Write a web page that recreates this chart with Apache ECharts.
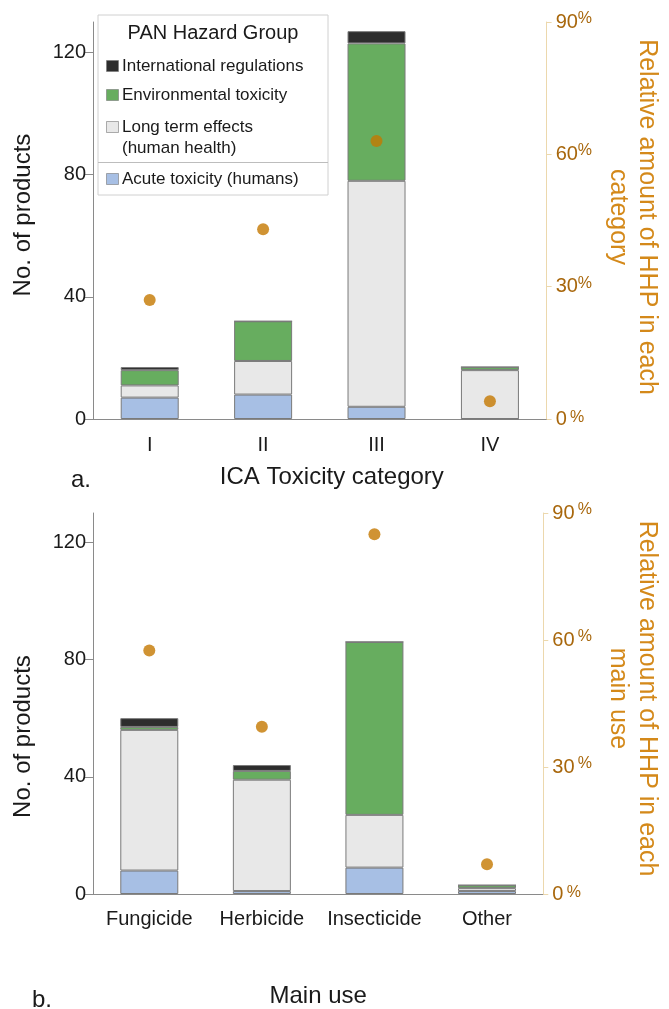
<!DOCTYPE html>
<html>
<head>
<meta charset="utf-8">
<script src="https://cdn.jsdelivr.net/npm/echarts@6/dist/echarts.min.js"></script>
<style>
html,body{margin:0;padding:0;background:#fff;}
#chart{width:669px;height:1009px;}
</style>
</head>
<body>
<div id="chart"></div>
<script>
// ---------- data ----------
const categoriesA = ['I', 'II', 'III', 'IV'];
const categoriesB = ['Fungicide', 'Herbicide', 'Insecticide', 'Other'];
const groupNames = ['Acute toxicity (humans)', 'Long term effects (human health)', 'Environmental toxicity', 'International regulations'];
const legendTexts = ['Acute toxicity (humans)', 'Long term effects\n(human health)', 'Environmental toxicity', 'International regulations'];
const legendTitle = 'PAN Hazard Group';

const acuteA = [7, 8, 4, 0];
const longTermA = [4, 11, 74, 16];
const envA = [5, 13, 45, 1];
const intlA = [1, 0, 4, 0];
const hhpPctA = [27, 43, 63, 4];

const acuteB = [8, 1, 9, 1];
const longTermB = [48, 38, 18, 1];
const envB = [1, 3, 59, 1];
const intlB = [3, 2, 0, 0];
const hhpPctB = [57.5, 39.5, 85, 7];

const countTicks = [0, 40, 80, 120];
const pctTicks = [0, 30, 60, 90];

// ---------- styles ----------
const FONT = "'Liberation Sans', Arial, sans-serif";
const groupColors = ['#a7bfe4', '#e8e8e8', '#67ad5f', '#2d2d2d'];
const axisGray = '#8a8a8a';
const tan = '#ecd8ad';
const dotColor = '#c47800';
const pctLabelColor = '#a8670c';
const pctTitleColor = '#d4891a';
const textColor = '#1a1a1a';

const chart = echarts.init(document.getElementById('chart'), null, {renderer: 'canvas'});

function xAxisCfg(grid, cats, name, gap, pad, fs, margin) {
  return {
    gridIndex: grid, type: 'category', data: cats,
    axisLine: {lineStyle: {color: axisGray, width: 1}},
    axisTick: {length: 8, lineStyle: {color: axisGray}},
    axisLabel: {fontSize: fs, color: textColor, fontFamily: FONT, margin: margin, interval: 0, hideOverlap: false},
    name: name, nameLocation: 'middle', nameGap: gap,
    nameTextStyle: {fontSize: 24, color: textColor, fontFamily: FONT, padding: pad}
  };
}
function yLeftCfg(grid, pad) {
  return {
    gridIndex: grid, type: 'value', min: 0, max: 130, position: 'left',
    axisLine: {show: true, lineStyle: {color: axisGray}},
    axisTick: {show: true, length: 8, lineStyle: {color: axisGray}, customValues: countTicks},
    axisLabel: {fontSize: 20, color: textColor, fontFamily: FONT, margin: 7, customValues: countTicks},
    splitLine: {show: false},
    name: 'No. of products', nameLocation: 'middle', nameGap: 58, nameRotate: 90,
    nameTextStyle: {fontSize: 24, color: textColor, fontFamily: FONT, padding: pad}
  };
}
function yRightCfg(grid, name, pad, spaced) {
  return {
    gridIndex: grid, type: 'value', min: 0, max: 90, interval: 30, position: 'right',
    axisLine: {show: true, lineStyle: {color: tan}},
    axisTick: {show: true, length: 5, lineStyle: {color: tan}},
    axisLabel: {
      margin: 9,
      formatter: function (v) {
        if (v === 0) return '{n|0} {q|%}';
        return spaced ? '{n|' + v + '} {p|%}' : '{n|' + v + '}{p|%}';
      },
      rich: {
        n: {fontSize: 20, color: pctLabelColor, fontFamily: FONT},
        p: {fontSize: 16, color: pctLabelColor, fontFamily: FONT, padding: [0, 0, 7, 0]},
        q: {fontSize: 16, color: pctLabelColor, fontFamily: FONT, padding: [0, 0, 3, 0]}
      }
    },
    splitLine: {show: false},
    name: name, nameLocation: 'middle', nameGap: 52, nameRotate: -90,
    nameTextStyle: {fontSize: 25, color: pctTitleColor, fontFamily: FONT, lineHeight: 29, padding: pad}
  };
}

function barSeries(name, data, idx, color, stack) {
  return {
    type: 'bar', name: name, data: data, stack: stack,
    xAxisIndex: idx, yAxisIndex: idx * 2, barWidth: 58,
    itemStyle: {color: color, borderColor: '#7a7a7a', borderWidth: 1},
    emphasis: {disabled: true}
  };
}
function dotSeries(data, idx) {
  return {
    type: 'scatter', data: data, xAxisIndex: idx, yAxisIndex: idx * 2 + 1,
    symbol: 'circle', symbolSize: 12, itemStyle: {color: dotColor}, z: 5
  };
}

const seriesA = [acuteA, longTermA, envA, intlA];
const seriesB = [acuteB, longTermB, envB, intlB];
const series = [];
seriesA.forEach((d, i) => series.push(barSeries(groupNames[i], d, 0, groupColors[i], 'a')));
series.push(dotSeries(hhpPctA, 0));
seriesB.forEach((d, i) => series.push(barSeries(groupNames[i], d, 1, groupColors[i], 'b')));
series.push(dotSeries(hhpPctB, 1));

// legend box (custom layout as in reference)
const legendBox = {left: 98, top: 15, width: 230, height: 180};
const legendRowsY = [179, 127, 95, 66]; // acute, long term, env, intl
const legendGraphics = [
  {type: 'rect', shape: {x: legendBox.left, y: legendBox.top, width: legendBox.width, height: legendBox.height},
   style: {fill: '#fff', stroke: '#d0d0d0', lineWidth: 1}, z: 100},
  {type: 'text', x: legendBox.left + legendBox.width / 2, y: 33,
   style: {text: legendTitle, fontSize: 20, fontFamily: FONT, fill: textColor, align: 'center', verticalAlign: 'middle'}, z: 101},
  {type: 'line', shape: {x1: legendBox.left, y1: 162.5, x2: legendBox.left + legendBox.width, y2: 162.5},
   style: {stroke: '#bdbdbd', lineWidth: 1}, z: 101}
];
legendTexts.forEach((t, i) => {
  const y = legendRowsY[i];
  legendGraphics.push({type: 'rect', shape: {x: 106.5, y: y - 5.5, width: 12, height: 11},
    style: {fill: groupColors[i], stroke: '#777', lineWidth: 0.6}, z: 101});
  legendGraphics.push({type: 'text', x: 122, y: y - 10,
    style: {text: t, fontSize: 17, lineHeight: 21, fontFamily: FONT, fill: textColor, align: 'left', verticalAlign: 'top'}, z: 101});
});
legendGraphics.push({type: 'text', x: 81, y: 480,
  style: {text: 'a.', fontSize: 24, fontFamily: FONT, fill: textColor, align: 'center', verticalAlign: 'middle'}});
legendGraphics.push({type: 'text', x: 42, y: 1000,
  style: {text: 'b.', fontSize: 24, fontFamily: FONT, fill: textColor, align: 'center', verticalAlign: 'middle'}});

chart.setOption({
  animation: false,
  backgroundColor: '#fff',
  textStyle: {fontFamily: FONT},
  grid: [
    {left: 93, top: 22, width: 463, height: 397},
    {left: 93, top: 513, width: 462, height: 384}
  ],
  xAxis: [
    xAxisCfg(0, categoriesA, 'ICA Toxicity category', 46, [0, 0, 0, 24], 20, 16),
    xAxisCfg(1, categoriesB, 'Main use', 90, [0, 0, 0, 0], 20, 15)
  ],
  yAxis: [
    yLeftCfg(0, [0, 0, 0, 11]),
    yRightCfg(0, 'Relative amount of HHP in each\ncategory', [0, 7, 0, 0], false),
    yLeftCfg(1, [0, 66, 0, 0]),
    yRightCfg(1, 'Relative amount of HHP in each\nmain use', [0, 10, 0, 0], true)
  ],
  series: series,
  graphic: legendGraphics
});
</script>
</body>
</html>
